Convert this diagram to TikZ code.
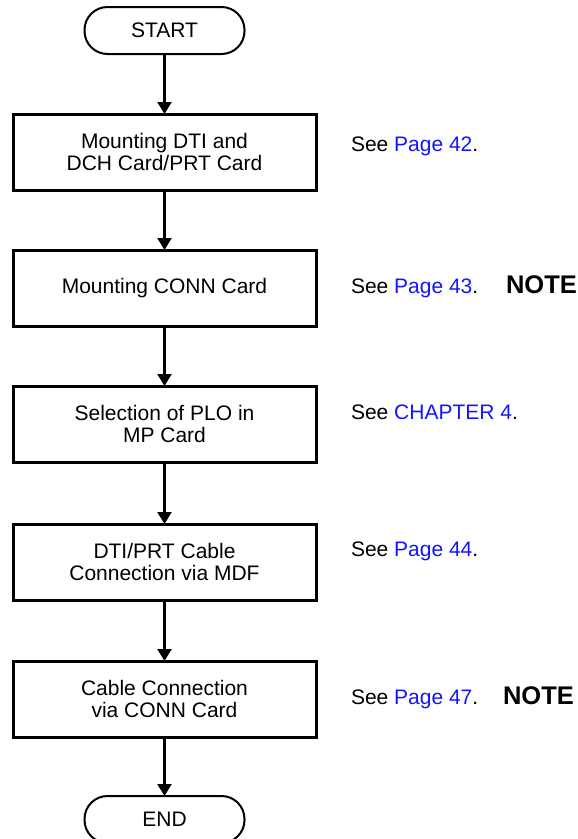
\documentclass[tikz,border=0pt]{standalone}
\usepackage{fontspec}
\setmainfont{Liberation Sans}
\usetikzlibrary{arrows.meta}
\definecolor{linkblue}{RGB}{20,20,255}
\tikzset{
  every node/.style={inner sep=0pt, outer sep=0pt, font=\fontsize{21}{21.5}\selectfont},
  terminal/.style={draw, line width=2pt, rounded corners=23pt,
    minimum width=160pt, minimum height=47pt, align=center},
  stepbox/.style={draw, line width=3pt, minimum width=303pt,
    minimum height=76pt, align=center},
  flow/.style={line width=2.2pt, -{Triangle[width=14pt,length=12pt]}},
  sidetext/.style={anchor=base west},
  notetext/.style={anchor=base west, font=\fontsize{25.5}{27}\selectfont\bfseries},
}
\begin{document}
\begin{tikzpicture}[x=1pt, y=-1pt]
  \useasboundingbox (0,0) rectangle (578,839);

  % flow chart column
  \node[terminal] (start) at (164.5,30.5) {START};
  \node[stepbox] (mount) at (164.5,152) {Mounting DTI and\\DCH Card/PRT Card};
  \node[stepbox] (conn) at (164.5,288) {Mounting CONN Card};
  \node[stepbox] (plo) at (164.5,424) {Selection of PLO in\\MP Card};
  \node[stepbox] (mdf) at (164.5,562) {DTI/PRT Cable\\Connection via MDF};
  \node[stepbox] (cable) at (164.5,699) {Cable Connection\\via CONN Card};
  \node[terminal] (end) at (164.5,819.5) {END};

  \draw[flow] (start) -- (mount);
  \draw[flow] (mount) -- (conn);
  \draw[flow] (conn) -- (plo);
  \draw[flow] (plo) -- (mdf);
  \draw[flow] (mdf) -- (cable);
  \draw[flow] (cable) -- (end);

  % references beside each step
  \node[sidetext] (ref1) at (351,151) {See \textcolor{linkblue}{Page 42}.};
  \node[sidetext] (ref2) at (351,293) {See \textcolor{linkblue}{Page 43}.};
  \node[sidetext] (ref3) at (351,419) {See \textcolor{linkblue}{CHAPTER 4}.};
  \node[sidetext] (ref4) at (351,556) {See \textcolor{linkblue}{Page 44}.};
  \node[sidetext] (ref5) at (351,704) {See \textcolor{linkblue}{Page 47}.};

  \node[notetext] (note2) at (506,293) {NOTE};
  \node[notetext] (note5) at (503,704) {NOTE};
\end{tikzpicture}
\end{document}
